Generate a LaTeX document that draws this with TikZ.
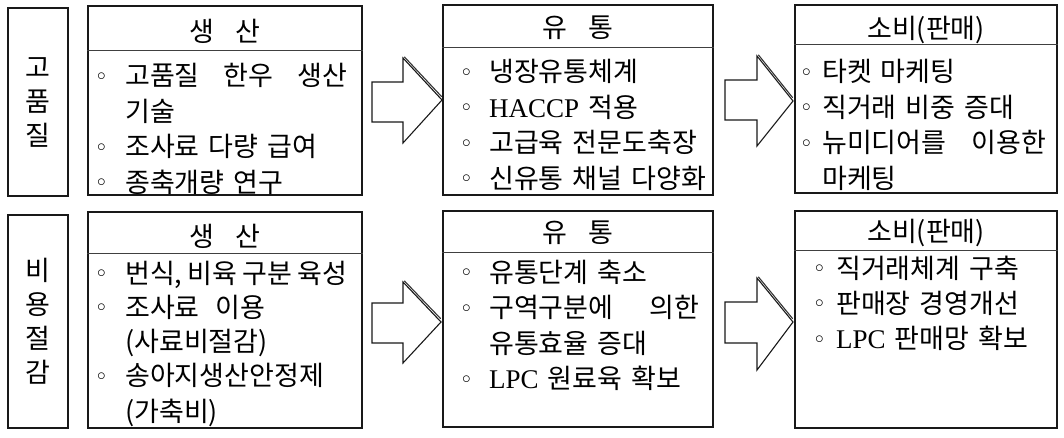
\documentclass[tikz,border=0pt]{standalone}
\usepackage{fontspec}
\setmainfont{Noto Sans CJK KR}[WordSpace=1.4]
\newfontfamily\lat{Liberation Serif}
\newcommand\bodyfont{\fontsize{27pt}{35.5pt}\selectfont}
\newcommand\labfont{\fontsize{27pt}{34pt}\selectfont}
\newcommand\bl[1][28pt]{\makebox[#1][l]{\raisebox{5.5pt}{\fontsize{19pt}{19pt}\selectfont$\circ$}}}
\newcommand\ind[1][28pt]{\hspace*{#1}}
\begin{document}
\begin{tikzpicture}[x=1pt,y=-1pt,
  box/.style={draw=black!90, line width=1.6pt, inner sep=0pt, rectangle},
  divline/.style={draw=black!75, line width=0.9pt},
  head/.style={anchor=base, inner sep=0pt, font=\bodyfont},
  body/.style={anchor=base west, inner sep=0pt, align=left, font=\bodyfont, text width=#1},
  lab/.style={inner sep=0pt, align=center, font=\labfont},
  barrow/.style={draw=black!90, line width=1.1pt, line join=miter, fill=white},
  bshadow/.style={draw=black!80, line width=1.1pt, line cap=round}]
\useasboundingbox (0,0) rectangle (1064,438);

% ---- top row ----
\node[box, minimum width=60pt, minimum height=188pt] (l1) at (38,102) {};
\node[lab] (l1t) at (l1.center) {고\\품\\질};

\node[box, minimum width=274pt, minimum height=189pt] (p1) at (225,100.5) {};
\draw[divline] (p1.west |- 0,50) -- (p1.east |- 0,50);
\node[head] (p1h) at (225,42) {생\hspace{0.8em}산};
\node[body=250pt] (p1b) at (97,86) {\bl 고품질\hfill 한우\hfill 생산\\
\ind 기술\\
\bl 조사료 다량 급여\\
\bl 종축개량 연구};

\node[box, minimum width=270pt, minimum height=190pt] (d1) at (578,100) {};
\draw[divline] (d1.west |- 0,47) -- (d1.east |- 0,47);
\node[head] (d1h) at (578,38) {유\hspace{0.8em}통};
\node[body=245pt] (d1b) at (462,82) {\bl[18pt] 냉장유통체계\\
\bl[18pt] {\lat HACCP} 적용\\
\bl[18pt] 고급육 전문도축장\\
\bl[18pt] 신유통 채널 다양화};

\node[box, minimum width=262pt, minimum height=188pt] (c1) at (926,99) {};
\draw[divline] (c1.west |- 0,44) -- (c1.east |- 0,44);
\node[head] (c1h) at (926,39) {소비(판매)};
\node[body=244pt] (c1b) at (802,82) {\bl[11pt] 타켓 마케팅\\
\bl[11pt] 직거래 비중 증대\\
\bl[11pt] 뉴미디어를\hfill 이용한\\
\ind[11pt] 마케팅};

% ---- bottom row ----
\node[box, minimum width=60pt, minimum height=213pt] (l2) at (38,321.5) {};
\node[lab] (l2t) at (l2.center) {비\\용\\절\\감};

\node[box, minimum width=274pt, minimum height=216pt] (p2) at (225,320) {};
\draw[divline] (p2.west |- 0,253) -- (p2.east |- 0,253);
\node[head] (p2h) at (225,246) {생\hspace{0.8em}산};
\node[body=250pt] (p2b) at (97,283) {\fontsize{27pt}{34.3pt}\selectfont
\bl 번식,\hfill 비육\hfill 구분\hfill 육성\\
\bl 조사료\hspace{0.6em}이용\\
\ind (사료비절감)\\
\bl 송아지생산안정제\\
\ind (가축비)};

\node[box, minimum width=270pt, minimum height=216pt] (d2) at (578,319) {};
\draw[divline] (d2.west |- 0,252) -- (d2.east |- 0,252);
\node[head] (d2h) at (578,242) {유\hspace{0.8em}통};
\node[body=237pt] (d2b) at (462,282) {\bl[18pt] 유통단계 축소\\
\bl[18pt] 구역구분에\hfill 의한\\
\ind[18pt] 유통효율 증대\\
\bl[18pt] {\lat LPC} 원료육 확보};

\node[box, minimum width=262pt, minimum height=217pt] (c2) at (926,319.5) {};
\draw[divline] (c2.west |- 0,250) -- (c2.east |- 0,250);
\node[head] (c2h) at (926,241) {소비(판매)};
\node[body=235pt] (c2b) at (815,278) {\fontsize{27pt}{35pt}\selectfont
\bl[12pt] 직거래체계 구축\\
\bl[12pt] 판매장 경영개선\\
\bl[12pt] {\lat LPC} 판매망 확보};

% ---- block arrows ----
\draw[barrow] (372,82) -- (403,82) -- (403,58) -- (442,100) -- (403,143) -- (403,122) -- (372,122) -- cycle;
\draw[bshadow] (404.5,57) -- (441.5,96.5);
\draw[barrow] (725,80) -- (757,80) -- (757,56) -- (793,101) -- (757,146) -- (757,120) -- (725,120) -- cycle;
\draw[bshadow] (758.5,55) -- (792.5,97.5);
\draw[barrow] (372,303) -- (403,303) -- (403,282) -- (441,322) -- (403,363) -- (403,343) -- (372,343) -- cycle;
\draw[bshadow] (404.5,281) -- (440.5,318.5);
\draw[barrow] (725,302) -- (757,302) -- (757,278) -- (793,322) -- (757,370) -- (757,343) -- (725,343) -- cycle;
\draw[bshadow] (758.5,277) -- (792.5,318.5);
\end{tikzpicture}
\end{document}
